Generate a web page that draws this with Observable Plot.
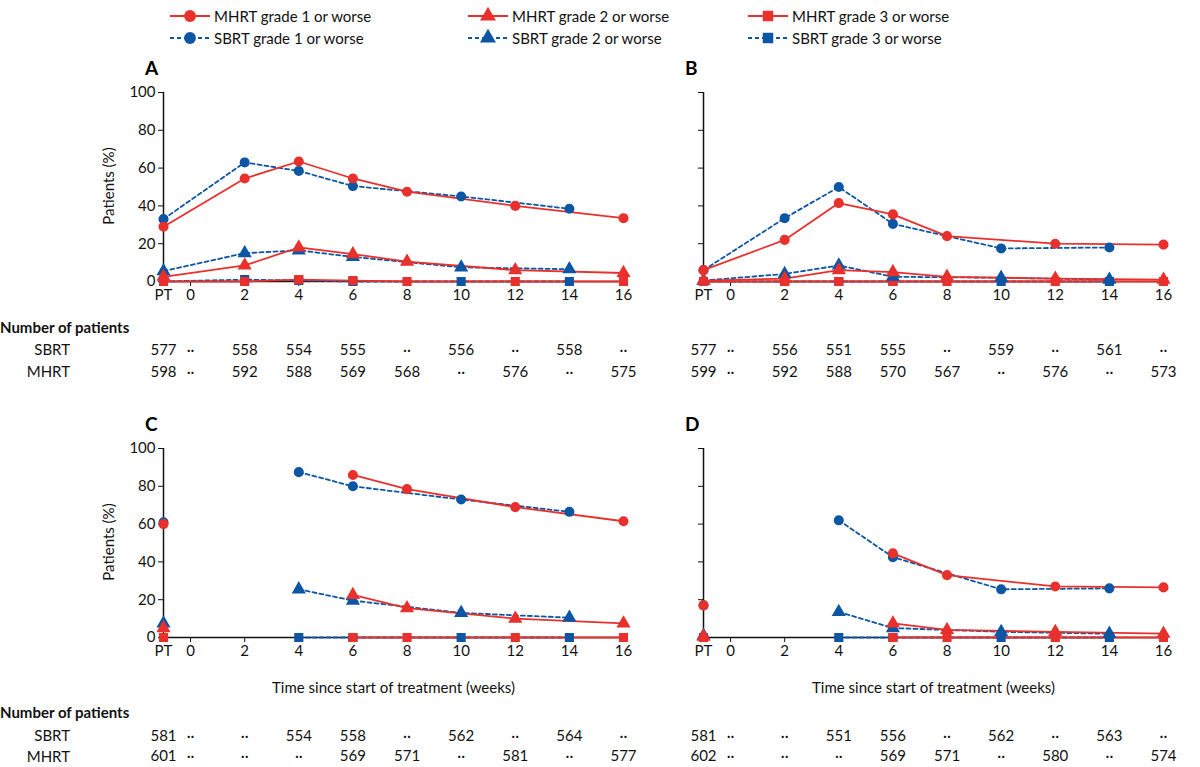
<!DOCTYPE html>
<html><head><meta charset="utf-8">
<script src="https://cdn.jsdelivr.net/npm/d3@7"></script>
<script src="https://cdn.jsdelivr.net/npm/@observablehq/plot@0.6"></script>
<style>
body{margin:0;background:#fff;font-family:Lato,"Open Sans",sans-serif;}
#root{position:relative;width:1200px;height:767px;overflow:hidden;}
.abs{position:absolute;}
.lbl{font-size:15px;color:#111;white-space:nowrap;}
.hdr{font-size:15px;font-weight:bold;color:#111;}
.pl{font-size:19px;font-weight:bold;}
svg{overflow:visible}
</style></head><body><div id="root"></div>
<script>
const weeks = ["PT", 2, 4, 6, 8, 10, 12, 14, 16];
const tickWeeks = ["PT", 0, 2, 4, 6, 8, 10, 12, 14, 16];
// Panel A
const A_MHRT1 = [29, 54.5, 63.5, 54.5, 47.5, null, 40, null, 33.5];
const A_SBRT1 = [33, 63, 58.5, 50.5, null, 45, null, 38.5, null];
const A_MHRT2 = [2.5, 8.5, 18, 14.5, 10.5, null, 6, null, 4.5];
const A_SBRT2 = [5.5, 15, 16.5, 13, null, 7.5, null, 6.5, null];
const A_MHRT3 = [0, 0, 1, 0.5, 0, null, 0, null, 0];
const A_SBRT3 = [0, 1, 0.5, 0, null, 0, null, 0, null];
// Panel B
const B_MHRT1 = [6, 22, 41.5, 35.5, 24, null, 20, null, 19.5];
const B_SBRT1 = [6, 33.5, 50, 30.5, null, 17.5, null, 18, null];
const B_MHRT2 = [0.5, 1.5, 6, 5, 2.5, null, 1.5, null, 1];
const B_SBRT2 = [0.5, 4, 8.5, 2.5, null, 2, null, 1, null];
const B_MHRT3 = [0, 0, 0, 0, 0, null, 0, null, 0];
const B_SBRT3 = [0, 0, 0, 0, null, 0, null, 0, null];
// Panel C
const C_MHRT1 = [60, null, null, 86, 78.5, null, 69, null, 61.5];
const C_SBRT1 = [61, null, 87.5, 80, null, 73, null, 66.5, null];
const C_MHRT2 = [5, null, null, 22.5, 15.5, null, 10, null, 7.5];
const C_SBRT2 = [7.5, null, 25.5, 19.5, null, 13, null, 10.5, null];
const C_MHRT3 = [0, null, null, 0, 0, null, 0, null, 0];
const C_SBRT3 = [0, null, 0, 0, null, 0, null, 0, null];
// Panel D
const D_MHRT1 = [17, null, null, 44.5, 33, null, 27, null, 26.5];
const D_SBRT1 = [17, null, 62, 42.5, null, 25.5, null, 26, null];
const D_MHRT2 = [0.5, null, null, 7.5, 4, null, 3, null, 2];
const D_SBRT2 = [1, null, 13.5, 5, null, 3, null, 2, null];
const D_MHRT3 = [0, null, null, 0, 0, null, 0, null, 0];
const D_SBRT3 = [0, null, 0, 0, null, 0, null, 0, null];
// Number of patients (positions PT,0,2,...,16)
const A_nSBRT = ["577","··","558","554","555","··","556","··","558","··"];
const A_nMHRT = ["598","··","592","588","569","568","··","576","··","575"];
const B_nSBRT = ["577","··","556","551","555","··","559","··","561","··"];
const B_nMHRT = ["599","··","592","588","570","567","··","576","··","573"];
const C_nSBRT = ["581","··","··","554","558","··","562","··","564","··"];
const C_nMHRT = ["601","··","··","··","569","571","··","581","··","577"];
const D_nSBRT = ["581","··","··","551","556","··","562","··","563","··"];
const D_nMHRT = ["602","··","··","··","569","571","··","580","··","574"];

const RED = "#e8302c", BLUE = "#0c56a4";
const xv = w => w === "PT" ? -1 : w;
const root = document.getElementById("root");

function panel(opts){
  const {left, top, letter, yLabels, series, nS, nM, connectPT, xTitle, rowY} = opts;
  const pts = [];
  series.forEach(s => {
    s.vals.forEach((v,i) => { if (v != null) pts.push({x: xv(weeks[i]), y: v, name: s.name, seg: (!connectPT && weeks[i]==="PT") ? s.name+"pt" : s.name}); });
  });
  const marks = [
    Plot.ruleY([0], {x1: -1, x2: 16, stroke: "#111", strokeWidth: 1.5}),
    Plot.ruleX([-1], {y1: 0, y2: 100, stroke: "#111", strokeWidth: 1.5}),
  ];
  series.forEach(s => {
    const d = pts.filter(p => p.name === s.name);
    marks.push(Plot.line(d, {x:"x", y:"y", z:"seg", stroke: s.color, strokeWidth: 1.8, strokeDasharray: s.dash ? "4,3" : null}));
  });
  series.forEach(s => {
    const d = pts.filter(p => p.name === s.name);
    marks.push(Plot.dot(d, {x:"x", y:"y", symbol: s.symbol, fill: s.color, stroke: s.color, r: 4.3}));
  });
  const nx = tickWeeks.map(xv);
  marks.push(Plot.text(nS, {x: (d,i)=>nx[i], y: rowY[0], text: d=>d, fontSize: 15, fill:"#111"}));
  marks.push(Plot.text(nM, {x: (d,i)=>nx[i], y: rowY[1], text: d=>d, fontSize: 15, fill:"#111"}));
  if (xTitle) marks.push(Plot.text([xTitle], {x: 7.5, y: -27, text: d=>d, fontSize: 15, fill:"#111"}));
  const p = Plot.plot({
    width: 560, height: 340, marginLeft: 63, marginRight: 37, marginTop: 32, marginBottom: 119,
    style: {fontFamily: "Lato, 'Open Sans', sans-serif", fontSize: "15px", color: "#111", overflow: "visible"},
    x: {type: "linear", domain: [-1, 16], ticks: nx, tickFormat: d => d === -1 ? "PT" : d, tickSize: 5, label: null, tickPadding: 3},
    y: {type: "linear", domain: [0, 100], ticks: [0,20,40,60,80,100], tickSize: 5, tickPadding: 3, label: null, tickFormat: yLabels ? d=>d : ()=>""},
    marks
  });
  p.style.position = "absolute"; p.style.left = left + "px"; p.style.top = top + "px";
  root.appendChild(p);
  const L = document.createElement("div"); L.className = "abs pl"; L.textContent = letter;
  L.style.left = (left + 45) + "px"; L.style.top = (top - 4) + "px"; root.appendChild(L);
}
function ser(m1,s1,m2,s2,m3,s3){
  return [
    {name:"s3", vals:s3, color:BLUE, dash:true, symbol:"square"},
    {name:"m3", vals:m3, color:RED, dash:false, symbol:"square"},
    {name:"s2", vals:s2, color:BLUE, dash:true, symbol:"triangle"},
    {name:"m2", vals:m2, color:RED, dash:false, symbol:"triangle"},
    {name:"s1", vals:s1, color:BLUE, dash:true, symbol:"circle"},
    {name:"m1", vals:m1, color:RED, dash:false, symbol:"circle"},
  ];
}
panel({left:100, top:60, letter:"A", yLabels:true, series:ser(A_MHRT1,A_SBRT1,A_MHRT2,A_SBRT2,A_MHRT3,A_SBRT3), nS:A_nSBRT, nM:A_nMHRT, connectPT:true, rowY:[-36.5,-48]});
panel({left:640, top:60, letter:"B", yLabels:false, series:ser(B_MHRT1,B_SBRT1,B_MHRT2,B_SBRT2,B_MHRT3,B_SBRT3), nS:B_nSBRT, nM:B_nMHRT, connectPT:true, rowY:[-36.5,-48]});
panel({left:100, top:416, letter:"C", yLabels:true, series:ser(C_MHRT1,C_SBRT1,C_MHRT2,C_SBRT2,C_MHRT3,C_SBRT3), nS:C_nSBRT, nM:C_nMHRT, connectPT:false, xTitle:"Time since start of treatment (weeks)", rowY:[-52,-63]});
panel({left:640, top:416, letter:"D", yLabels:false, series:ser(D_MHRT1,D_SBRT1,D_MHRT2,D_SBRT2,D_MHRT3,D_SBRT3), nS:D_nSBRT, nM:D_nMHRT, connectPT:false, xTitle:"Time since start of treatment (weeks)", rowY:[-52,-63]});

function addDiv(cls, text, x, y, extra){
  const d = document.createElement("div"); d.className = "abs " + cls; d.textContent = text;
  d.style.left = x+"px"; d.style.top = y+"px"; if (extra) Object.assign(d.style, extra); root.appendChild(d);
}
[[0,"Number of patients",318],[0,"Number of patients",703]].forEach(([x,t,y])=>addDiv("hdr",t,x,y));
[[340,"SBRT"],[362,"MHRT"],[726,"SBRT"],[747,"MHRT"]].forEach(([y,t])=>addDiv("lbl",t,0,y,{width:"70px",textAlign:"right"}));
[[186],[542]].forEach(([cy])=>addDiv("lbl","Patients (%)",108,cy,{transform:"translate(-50%,-50%) rotate(-90deg)",transformOrigin:"center",left:"108px"}));

// Legend
const legendItems = [
  {label:"MHRT grade 1 or worse", color:RED, dash:false, symbol:"circle", x:168, y:8},
  {label:"MHRT grade 2 or worse", color:RED, dash:false, symbol:"triangle", x:466, y:8},
  {label:"MHRT grade 3 or worse", color:RED, dash:false, symbol:"square", x:746, y:8},
  {label:"SBRT grade 1 or worse", color:BLUE, dash:true, symbol:"circle", x:168, y:30},
  {label:"SBRT grade 2 or worse", color:BLUE, dash:true, symbol:"triangle", x:466, y:30},
  {label:"SBRT grade 3 or worse", color:BLUE, dash:true, symbol:"square", x:746, y:30},
];
legendItems.forEach(it=>{
  const ns="http://www.w3.org/2000/svg";
  const s=document.createElementNS(ns,"svg"); s.setAttribute("width",44); s.setAttribute("height",20);
  s.style.position="absolute"; s.style.left=it.x+"px"; s.style.top=(it.y-2)+"px";
  const l=document.createElementNS(ns,"line"); l.setAttribute("x1",2);l.setAttribute("x2",42);l.setAttribute("y1",10);l.setAttribute("y2",10);
  l.setAttribute("stroke",it.color);l.setAttribute("stroke-width",2); if(it.dash) l.setAttribute("stroke-dasharray","4,3"); s.appendChild(l);
  const sym = {circle:d3.symbolCircle, triangle:d3.symbolTriangle, square:d3.symbolSquare}[it.symbol];
  const p=document.createElementNS(ns,"path"); p.setAttribute("d", d3.symbol(sym, 110)()); p.setAttribute("transform","translate(22,10)"); p.setAttribute("fill",it.color); s.appendChild(p);
  root.appendChild(s);
  addDiv("lbl", it.label, it.x+46, it.y-1);
});
</script></body></html>
